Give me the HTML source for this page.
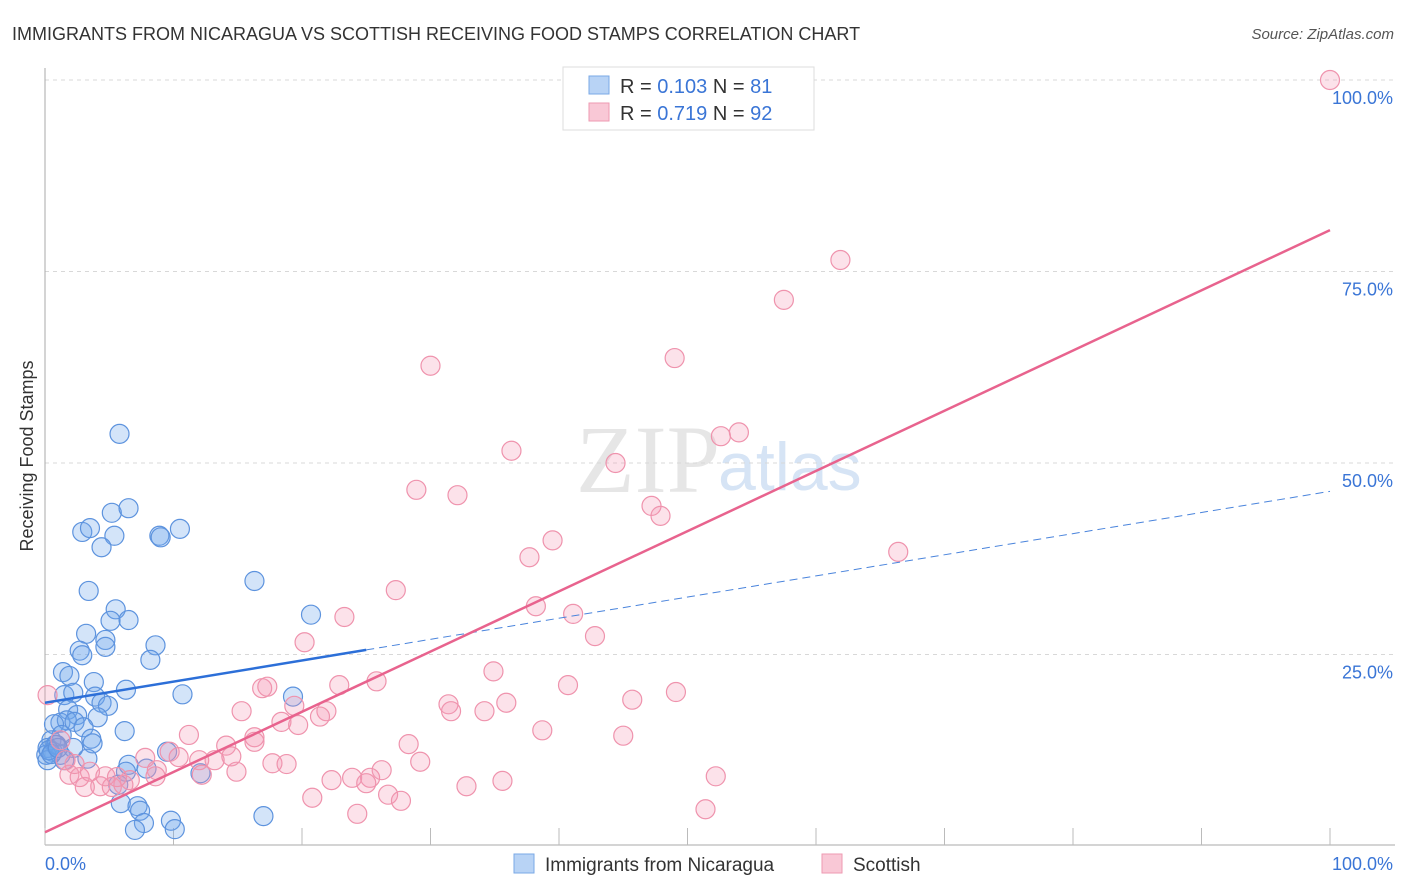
<!DOCTYPE html>
<html><head><meta charset="utf-8"><style>
body{margin:0;background:#fff;font-family:"Liberation Sans",sans-serif}
svg{display:block}
</style></head><body>
<svg id="chart" width="1406" height="892">
<text x="12" y="40" font-size="18" fill="#333">IMMIGRANTS FROM NICARAGUA VS SCOTTISH RECEIVING FOOD STAMPS CORRELATION CHART</text>
<text x="1394" y="39" font-size="15" fill="#555" font-style="italic" text-anchor="end">Source: ZipAtlas.com</text>
<text transform="translate(33,456) rotate(-90)" font-size="18" fill="#333" text-anchor="middle">Receiving Food Stamps</text>
<text x="720" y="492" font-size="96" fill="#e6e6e6" text-anchor="end" font-family="Liberation Serif,serif">ZIP</text>
<text x="718" y="490" font-size="68" fill="#d6e4f5">atlas</text>
<g id="grid"></g><g id="axes"></g><g id="pts"></g><g id="lines"></g>
<g>
<rect x="563" y="67" width="251" height="63" fill="#fff" stroke="#ddd"/>
<rect x="589" y="76" width="20" height="18" fill="#b8d3f5" stroke="#7aa8e6"/>
<rect x="589" y="103" width="20" height="18" fill="#f9c8d6" stroke="#ee9ab2"/>
<text x="620" y="93" font-size="20" fill="#333">R = <tspan fill="#3a75d6">0.103</tspan>   N =  <tspan fill="#3a75d6">81</tspan></text>
<text x="620" y="120" font-size="20" fill="#333">R = <tspan fill="#3a75d6">0.719</tspan>   N =  <tspan fill="#3a75d6">92</tspan></text>
</g>
<g>
<rect x="514" y="854" width="20" height="19" fill="#b8d3f5" stroke="#7aa8e6"/>
<text x="545" y="871" font-size="19" fill="#333">Immigrants from Nicaragua</text>
<rect x="822" y="854" width="20" height="19" fill="#f9c8d6" stroke="#ee9ab2"/>
<text x="853" y="871" font-size="19" fill="#333">Scottish</text>
</g>
</svg>
<script>
const yTicks=[25,50,75,100];
const yTickLabels=["25.0%","50.0%","75.0%","100.0%"];
const xTickLabels=["0.0%","100.0%"];
const blueX=[5.8,2.9,3.5,5.2,6.5,5.4,4.4,8.9,9.0,10.5,16.3,3.4,5.5,5.1,6.5,20.7,3.2,4.7,4.7,8.6,2.7,2.9,8.2,1.4,1.9,6.3,10.7,1.5,2.2,3.8,3.9,4.4,4.9,19.3,1.8,2.5,4.1,1.2,1.7,2.3,0.7,6.2,3.0,1.3,3.6,3.7,0.5,0.8,0.2,0.6,1.2,3.3,2.2,9.5,6.5,7.9,6.3,12.1,5.7,5.9,7.2,7.4,7.7,7.0,9.8,10.1,17.0,0.1,0.2,0.9,1.5,0.3,0.5,1.0];
const blueY=[53.8,41.0,41.5,43.5,44.1,40.5,39.0,40.5,40.3,41.4,34.6,33.3,30.9,29.4,29.5,30.2,27.7,26.9,26.0,26.2,25.5,24.9,24.3,22.7,22.2,20.4,19.8,19.7,20.0,21.4,19.5,18.7,18.3,19.5,17.8,17.1,16.8,16.1,16.4,16.2,15.9,15.0,15.5,14.5,14.0,13.4,13.8,13.2,12.8,12.3,11.9,11.4,12.8,12.3,10.6,10.1,9.7,9.5,8.0,5.6,5.2,4.6,3.0,2.1,3.3,2.2,3.9,11.9,11.2,13.2,11.2,12.5,12.0,12.8];
const pinkX=[100,58.1,61.9,57.5,49.0,30.0,54.0,52.6,36.3,44.4,28.9,32.1,47.2,47.9,39.5,37.7,66.4,27.3,38.2,41.1,23.3,20.2,42.8,34.9,25.8,40.7,49.1,22.9,16.9,17.3,45.7,31.4,31.6,34.2,35.9,19.4,21.9,21.4,15.3,18.4,19.7,11.2,38.7,45.0,16.3,14.1,28.3,16.3,9.7,14.5,13.2,12.0,10.4,7.8,17.7,18.8,29.2,26.2,8.7,14.9,12.2,22.3,23.9,25.3,25.0,35.6,32.8,52.2,26.7,27.7,20.8,24.3,51.4,6.6,4.3,3.1,5.2,6.1,1.9,2.7,0.2,1.2,1.6,2.3,3.5,4.7,5.6,8.6];
const pinkY=[100,100,76.5,71.3,63.7,62.7,54.0,53.5,51.6,50.0,46.5,45.8,44.4,43.1,39.9,37.7,38.4,33.4,31.3,30.3,29.9,26.6,27.4,22.8,21.5,21.0,20.1,21.0,20.6,20.8,19.1,18.5,17.6,17.6,18.7,18.3,17.6,16.9,17.6,16.2,15.8,14.5,15.1,14.4,14.2,13.1,13.3,13.6,12.3,11.7,11.2,11.2,11.6,11.5,10.8,10.7,11.0,9.9,9.9,9.7,9.3,8.6,8.9,8.9,8.2,8.5,7.8,9.1,6.7,5.9,6.3,4.2,4.8,8.6,7.8,7.7,7.7,8.0,9.3,9.0,19.7,13.8,11.2,10.7,9.7,9.1,9.0,9.1];
const blueTrend=[18.7,0.276];
const pinkTrend=[1.8,0.786];
const X=v=>45+v*12.85, Y=v=>846-v*7.66;
const NS="http://www.w3.org/2000/svg";
function mk(tag,attrs,parent){const e=document.createElementNS(NS,tag);for(const k in attrs)e.setAttribute(k,attrs[k]);document.getElementById(parent).appendChild(e);return e;}
yTicks.forEach((t,i)=>{
 const l=mk('line',{x1:45,x2:1395,y1:Y(t),y2:Y(t),stroke:'#d8d8d8','stroke-dasharray':'4,4'},'grid');
 
 
 const tx=mk('text',{x:1393,y:Y(t)+24,'font-size':18,fill:'#3a75d6','text-anchor':'end'},'grid');
 tx.textContent=yTickLabels[i];
 
 
});
const ax=mk('line',{x1:45,x2:45,y1:68,y2:845,stroke:'#aaa'},'axes');


const bx=mk('line',{x1:45,x2:1395,y1:845,y2:845,stroke:'#aaa'},'axes');


for(let i=0;i<=10;i++){const t=mk('line',{x1:X(i*10),x2:X(i*10),y1:828,y2:845,stroke:'#bbb'},'axes');
 
 }
const xl0=mk('text',{x:45,y:870,'font-size':18,fill:'#3a75d6'},'axes');xl0.textContent=xTickLabels[0];


const xl1=mk('text',{x:1393,y:870,'font-size':18,fill:'#3a75d6','text-anchor':'end'},'axes');xl1.textContent=xTickLabels[1];


blueX.forEach((v,i)=>{const c=mk('circle',{cx:X(v),cy:Y(blueY[i]),r:9.5,fill:'rgba(110,165,235,0.3)',stroke:'#5d93de','stroke-width':1.2},'pts');
 
 });
pinkX.forEach((v,i)=>{const c=mk('circle',{cx:X(v),cy:Y(pinkY[i]),r:9.5,fill:'rgba(245,150,178,0.28)',stroke:'#ef93ad','stroke-width':1.2},'pts');
 
 });
const b1=mk('line',{x1:X(0),y1:Y(blueTrend[0]),x2:X(25),y2:Y(blueTrend[0]+25*blueTrend[1]),stroke:'#2c6fd8','stroke-width':2.5},'lines');


const b2=mk('line',{x1:X(25),y1:Y(blueTrend[0]+25*blueTrend[1]),x2:X(100),y2:Y(blueTrend[0]+100*blueTrend[1]),stroke:'#4a84dc','stroke-width':1,'stroke-dasharray':'8,5'},'lines');


const p1=mk('line',{x1:X(0),y1:Y(pinkTrend[0]),x2:X(100),y2:Y(pinkTrend[0]+100*pinkTrend[1]),stroke:'#e8638e','stroke-width':2.5},'lines');


</script>
</body></html>
